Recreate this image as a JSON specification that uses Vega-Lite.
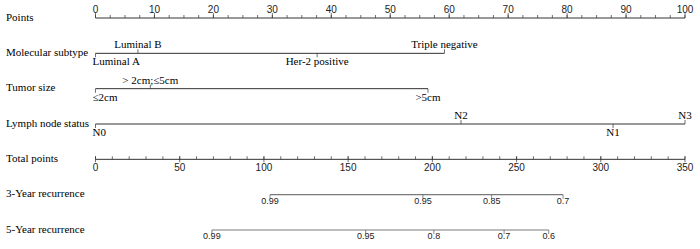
{
  "$schema": "https://vega.github.io/schema/vega-lite/v6.json",
  "width": 589.5,
  "height": 212,
  "autosize": "none",
  "padding": {"left": 95.5, "top": 18, "right": 15, "bottom": 19},
  "background": "white",
  "config": {
    "view": {"stroke": null},
    "axisY": {"domain": false, "ticks": false, "tickSize": 0, "grid": false, "labelAlign": "left", "labelBaseline": "middle", "labelPadding": 90, "labelOffset": -1, "labelFont": "Liberation Serif", "labelFontSize": 11, "labelColor": "#000", "labelLimit": 200}
  },
  "datasets": {
    "segP": [
      {"row": "Points", "v": 0, "v2": 100},
      {"row": "Molecular subtype", "v": 0, "v2": 59.2},
      {"row": "Tumor size", "v": 0, "v2": 56.4},
      {"row": "Lymph node status", "v": 0, "v2": 100}
    ],
    "pMinor": [
      {"row": "Points", "v": 0}, {"row": "Points", "v": 2.5}, {"row": "Points", "v": 5}, {"row": "Points", "v": 7.5},
      {"row": "Points", "v": 10}, {"row": "Points", "v": 12.5}, {"row": "Points", "v": 15}, {"row": "Points", "v": 17.5},
      {"row": "Points", "v": 20}, {"row": "Points", "v": 22.5}, {"row": "Points", "v": 25}, {"row": "Points", "v": 27.5},
      {"row": "Points", "v": 30}, {"row": "Points", "v": 32.5}, {"row": "Points", "v": 35}, {"row": "Points", "v": 37.5},
      {"row": "Points", "v": 40}, {"row": "Points", "v": 42.5}, {"row": "Points", "v": 45}, {"row": "Points", "v": 47.5},
      {"row": "Points", "v": 50}, {"row": "Points", "v": 52.5}, {"row": "Points", "v": 55}, {"row": "Points", "v": 57.5},
      {"row": "Points", "v": 60}, {"row": "Points", "v": 62.5}, {"row": "Points", "v": 65}, {"row": "Points", "v": 67.5},
      {"row": "Points", "v": 70}, {"row": "Points", "v": 72.5}, {"row": "Points", "v": 75}, {"row": "Points", "v": 77.5},
      {"row": "Points", "v": 80}, {"row": "Points", "v": 82.5}, {"row": "Points", "v": 85}, {"row": "Points", "v": 87.5},
      {"row": "Points", "v": 90}, {"row": "Points", "v": 92.5}, {"row": "Points", "v": 95}, {"row": "Points", "v": 97.5},
      {"row": "Points", "v": 100}
    ],
    "pMajor": [
      {"row": "Points", "v": 0, "label": "0"}, {"row": "Points", "v": 10, "label": "10"},
      {"row": "Points", "v": 20, "label": "20"}, {"row": "Points", "v": 30, "label": "30"},
      {"row": "Points", "v": 40, "label": "40"}, {"row": "Points", "v": 50, "label": "50"},
      {"row": "Points", "v": 60, "label": "60"}, {"row": "Points", "v": 70, "label": "70"},
      {"row": "Points", "v": 80, "label": "80"}, {"row": "Points", "v": 90, "label": "90"},
      {"row": "Points", "v": 100, "label": "100"}
    ],
    "vars": [
      {"row": "Molecular subtype", "v": 0, "label": "Luminal A", "side": "below", "first": true},
      {"row": "Molecular subtype", "v": 7.2, "label": "Luminal B", "side": "above", "first": false},
      {"row": "Molecular subtype", "v": 37.6, "label": "Her-2 positive", "side": "below", "first": false},
      {"row": "Molecular subtype", "v": 59.2, "label": "Triple negative", "side": "above", "first": false},
      {"row": "Tumor size", "v": 0, "label": "≤2cm", "side": "below", "first": true},
      {"row": "Tumor size", "v": 9.3, "label": "> 2cm;≤5cm", "side": "above", "first": false},
      {"row": "Tumor size", "v": 56.4, "label": ">5cm", "side": "below", "first": false},
      {"row": "Lymph node status", "v": 0, "label": "N0", "side": "below", "first": true},
      {"row": "Lymph node status", "v": 62.0, "label": "N2", "side": "above", "first": false},
      {"row": "Lymph node status", "v": 87.8, "label": "N1", "side": "below", "first": false},
      {"row": "Lymph node status", "v": 100, "label": "N3", "side": "above", "first": false}
    ],
    "segT": [
      {"row": "Total points", "t": 0, "t2": 350}
    ],
    "segR": [
      {"row": "3-Year recurrence", "t": 103.6, "t2": 277.6},
      {"row": "5-Year recurrence", "t": 69.1, "t2": 269.1}
    ],
    "tMinor": [
      {"row": "Total points", "t": 0}, {"row": "Total points", "t": 10}, {"row": "Total points", "t": 20}, {"row": "Total points", "t": 30},
      {"row": "Total points", "t": 40}, {"row": "Total points", "t": 50}, {"row": "Total points", "t": 60}, {"row": "Total points", "t": 70},
      {"row": "Total points", "t": 80}, {"row": "Total points", "t": 90}, {"row": "Total points", "t": 100}, {"row": "Total points", "t": 110},
      {"row": "Total points", "t": 120}, {"row": "Total points", "t": 130}, {"row": "Total points", "t": 140}, {"row": "Total points", "t": 150},
      {"row": "Total points", "t": 160}, {"row": "Total points", "t": 170}, {"row": "Total points", "t": 180}, {"row": "Total points", "t": 190},
      {"row": "Total points", "t": 200}, {"row": "Total points", "t": 210}, {"row": "Total points", "t": 220}, {"row": "Total points", "t": 230},
      {"row": "Total points", "t": 240}, {"row": "Total points", "t": 250}, {"row": "Total points", "t": 260}, {"row": "Total points", "t": 270},
      {"row": "Total points", "t": 280}, {"row": "Total points", "t": 290}, {"row": "Total points", "t": 300}, {"row": "Total points", "t": 310},
      {"row": "Total points", "t": 320}, {"row": "Total points", "t": 330}, {"row": "Total points", "t": 340}, {"row": "Total points", "t": 350}
    ],
    "tMajor": [
      {"row": "Total points", "t": 0, "label": "0"}, {"row": "Total points", "t": 50, "label": "50"},
      {"row": "Total points", "t": 100, "label": "100"}, {"row": "Total points", "t": 150, "label": "150"},
      {"row": "Total points", "t": 200, "label": "200"}, {"row": "Total points", "t": 250, "label": "250"},
      {"row": "Total points", "t": 300, "label": "300"}, {"row": "Total points", "t": 350, "label": "350"}
    ],
    "rec": [
      {"row": "3-Year recurrence", "t": 103.6, "label": "0.99"},
      {"row": "3-Year recurrence", "t": 194.4, "label": "0.95"},
      {"row": "3-Year recurrence", "t": 235.2, "label": "0.85"},
      {"row": "3-Year recurrence", "t": 277.6, "label": "0.7"},
      {"row": "5-Year recurrence", "t": 69.1, "label": "0.99"},
      {"row": "5-Year recurrence", "t": 160.4, "label": "0.95"},
      {"row": "5-Year recurrence", "t": 200.9, "label": "0.8"},
      {"row": "5-Year recurrence", "t": 242.6, "label": "0.7"},
      {"row": "5-Year recurrence", "t": 269.1, "label": "0.6"}
    ]
  },
  "resolve": {"scale": {"x": "independent"}},
  "layer": [
    {
      "layer": [
        {
          "data": {"name": "segP"},
          "mark": {"type": "rule", "color": "#333", "strokeWidth": 1},
          "encoding": {
            "x": {"field": "v", "type": "quantitative", "scale": {"domain": [0, 100], "nice": false, "zero": false}, "axis": null},
            "x2": {"field": "v2"},
            "y": {"field": "row", "type": "nominal", "scale": {"type": "point", "padding": 0, "domain": ["Points", "Molecular subtype", "Tumor size", "Lymph node status", "Total points", "3-Year recurrence", "5-Year recurrence"]}, "axis": {"title": null}}
          }
        },
        {
          "data": {"name": "pMinor"},
          "mark": {"type": "tick", "color": "#333", "size": 3, "thickness": 1, "yOffset": -1.5},
          "encoding": {
            "x": {"field": "v", "type": "quantitative", "scale": {"domain": [0, 100], "nice": false, "zero": false}, "axis": null},
            "y": {"field": "row", "type": "nominal", "scale": {"type": "point", "padding": 0, "domain": ["Points", "Molecular subtype", "Tumor size", "Lymph node status", "Total points", "3-Year recurrence", "5-Year recurrence"]}, "axis": {"title": null}}
          }
        },
        {
          "data": {"name": "pMajor"},
          "mark": {"type": "tick", "color": "#333", "size": 5, "thickness": 1, "yOffset": -2.5},
          "encoding": {
            "x": {"field": "v", "type": "quantitative", "scale": {"domain": [0, 100], "nice": false, "zero": false}, "axis": null},
            "y": {"field": "row", "type": "nominal", "scale": {"type": "point", "padding": 0, "domain": ["Points", "Molecular subtype", "Tumor size", "Lymph node status", "Total points", "3-Year recurrence", "5-Year recurrence"]}, "axis": {"title": null}}
          }
        },
        {
          "data": {"name": "pMajor"},
          "mark": {"type": "text", "font": "Liberation Sans", "fontSize": 10, "color": "#222", "baseline": "bottom", "dy": -3},
          "encoding": {
            "x": {"field": "v", "type": "quantitative", "scale": {"domain": [0, 100], "nice": false, "zero": false}, "axis": null},
            "y": {"field": "row", "type": "nominal", "scale": {"type": "point", "padding": 0, "domain": ["Points", "Molecular subtype", "Tumor size", "Lymph node status", "Total points", "3-Year recurrence", "5-Year recurrence"]}, "axis": {"title": null}},
            "text": {"field": "label"}
          }
        },
        {
          "data": {"name": "vars"},
          "transform": [{"filter": "datum.side === 'above'"}],
          "mark": {"type": "tick", "color": "#333", "size": 4, "thickness": 1, "yOffset": -2},
          "encoding": {
            "x": {"field": "v", "type": "quantitative", "scale": {"domain": [0, 100], "nice": false, "zero": false}, "axis": null},
            "y": {"field": "row", "type": "nominal", "scale": {"type": "point", "padding": 0, "domain": ["Points", "Molecular subtype", "Tumor size", "Lymph node status", "Total points", "3-Year recurrence", "5-Year recurrence"]}, "axis": {"title": null}}
          }
        },
        {
          "data": {"name": "vars"},
          "transform": [{"filter": "datum.side === 'below'"}],
          "mark": {"type": "tick", "color": "#333", "size": 4, "thickness": 1, "yOffset": 2},
          "encoding": {
            "x": {"field": "v", "type": "quantitative", "scale": {"domain": [0, 100], "nice": false, "zero": false}, "axis": null},
            "y": {"field": "row", "type": "nominal", "scale": {"type": "point", "padding": 0, "domain": ["Points", "Molecular subtype", "Tumor size", "Lymph node status", "Total points", "3-Year recurrence", "5-Year recurrence"]}, "axis": {"title": null}}
          }
        },
        {
          "data": {"name": "vars"},
          "transform": [{"filter": "datum.side === 'above'"}],
          "mark": {"type": "text", "font": "Liberation Serif", "fontSize": 11, "color": "#000", "baseline": "bottom", "dy": -3},
          "encoding": {
            "x": {"field": "v", "type": "quantitative", "scale": {"domain": [0, 100], "nice": false, "zero": false}, "axis": null},
            "y": {"field": "row", "type": "nominal", "scale": {"type": "point", "padding": 0, "domain": ["Points", "Molecular subtype", "Tumor size", "Lymph node status", "Total points", "3-Year recurrence", "5-Year recurrence"]}, "axis": {"title": null}},
            "text": {"field": "label"}
          }
        },
        {
          "data": {"name": "vars"},
          "transform": [{"filter": "datum.side === 'below' && !datum.first"}],
          "mark": {"type": "text", "font": "Liberation Serif", "fontSize": 11, "color": "#000", "baseline": "top", "dy": 3},
          "encoding": {
            "x": {"field": "v", "type": "quantitative", "scale": {"domain": [0, 100], "nice": false, "zero": false}, "axis": null},
            "y": {"field": "row", "type": "nominal", "scale": {"type": "point", "padding": 0, "domain": ["Points", "Molecular subtype", "Tumor size", "Lymph node status", "Total points", "3-Year recurrence", "5-Year recurrence"]}, "axis": {"title": null}},
            "text": {"field": "label"}
          }
        },
        {
          "data": {"name": "vars"},
          "transform": [{"filter": "datum.side === 'below' && datum.first"}],
          "mark": {"type": "text", "font": "Liberation Serif", "fontSize": 11, "color": "#000", "baseline": "top", "align": "left", "dx": -3, "dy": 3},
          "encoding": {
            "x": {"field": "v", "type": "quantitative", "scale": {"domain": [0, 100], "nice": false, "zero": false}, "axis": null},
            "y": {"field": "row", "type": "nominal", "scale": {"type": "point", "padding": 0, "domain": ["Points", "Molecular subtype", "Tumor size", "Lymph node status", "Total points", "3-Year recurrence", "5-Year recurrence"]}, "axis": {"title": null}},
            "text": {"field": "label"}
          }
        }
      ]
    },
    {
      "layer": [
        {
          "data": {"name": "segT"},
          "mark": {"type": "rule", "color": "#333", "strokeWidth": 1},
          "encoding": {
            "x": {"field": "t", "type": "quantitative", "scale": {"domain": [0, 350], "nice": false, "zero": false}, "axis": null},
            "x2": {"field": "t2"},
            "y": {"field": "row", "type": "nominal", "scale": {"type": "point", "padding": 0, "domain": ["Points", "Molecular subtype", "Tumor size", "Lymph node status", "Total points", "3-Year recurrence", "5-Year recurrence"]}, "axis": {"title": null}}
          }
        },
        {
          "data": {"name": "segR"},
          "mark": {"type": "rule", "color": "#7a7a7a", "strokeWidth": 1.2},
          "encoding": {
            "x": {"field": "t", "type": "quantitative", "scale": {"domain": [0, 350], "nice": false, "zero": false}, "axis": null},
            "x2": {"field": "t2"},
            "y": {"field": "row", "type": "nominal", "scale": {"type": "point", "padding": 0, "domain": ["Points", "Molecular subtype", "Tumor size", "Lymph node status", "Total points", "3-Year recurrence", "5-Year recurrence"]}, "axis": {"title": null}}
          }
        },
        {
          "data": {"name": "tMinor"},
          "mark": {"type": "tick", "color": "#333", "size": 3, "thickness": 1, "yOffset": -1.5},
          "encoding": {
            "x": {"field": "t", "type": "quantitative", "scale": {"domain": [0, 350], "nice": false, "zero": false}, "axis": null},
            "y": {"field": "row", "type": "nominal", "scale": {"type": "point", "padding": 0, "domain": ["Points", "Molecular subtype", "Tumor size", "Lymph node status", "Total points", "3-Year recurrence", "5-Year recurrence"]}, "axis": {"title": null}}
          }
        },
        {
          "data": {"name": "tMajor"},
          "mark": {"type": "tick", "color": "#333", "size": 6, "thickness": 1, "yOffset": 0},
          "encoding": {
            "x": {"field": "t", "type": "quantitative", "scale": {"domain": [0, 350], "nice": false, "zero": false}, "axis": null},
            "y": {"field": "row", "type": "nominal", "scale": {"type": "point", "padding": 0, "domain": ["Points", "Molecular subtype", "Tumor size", "Lymph node status", "Total points", "3-Year recurrence", "5-Year recurrence"]}, "axis": {"title": null}}
          }
        },
        {
          "data": {"name": "tMajor"},
          "mark": {"type": "text", "font": "Liberation Sans", "fontSize": 10, "color": "#222", "baseline": "top", "dy": 4},
          "encoding": {
            "x": {"field": "t", "type": "quantitative", "scale": {"domain": [0, 350], "nice": false, "zero": false}, "axis": null},
            "y": {"field": "row", "type": "nominal", "scale": {"type": "point", "padding": 0, "domain": ["Points", "Molecular subtype", "Tumor size", "Lymph node status", "Total points", "3-Year recurrence", "5-Year recurrence"]}, "axis": {"title": null}},
            "text": {"field": "label"}
          }
        },
        {
          "data": {"name": "rec"},
          "mark": {"type": "tick", "color": "#555", "size": 4, "thickness": 1, "yOffset": 2},
          "encoding": {
            "x": {"field": "t", "type": "quantitative", "scale": {"domain": [0, 350], "nice": false, "zero": false}, "axis": null},
            "y": {"field": "row", "type": "nominal", "scale": {"type": "point", "padding": 0, "domain": ["Points", "Molecular subtype", "Tumor size", "Lymph node status", "Total points", "3-Year recurrence", "5-Year recurrence"]}, "axis": {"title": null}}
          }
        },
        {
          "data": {"name": "rec"},
          "mark": {"type": "text", "font": "Liberation Sans", "fontSize": 9, "color": "#222", "baseline": "top", "dy": 2},
          "encoding": {
            "x": {"field": "t", "type": "quantitative", "scale": {"domain": [0, 350], "nice": false, "zero": false}, "axis": null},
            "y": {"field": "row", "type": "nominal", "scale": {"type": "point", "padding": 0, "domain": ["Points", "Molecular subtype", "Tumor size", "Lymph node status", "Total points", "3-Year recurrence", "5-Year recurrence"]}, "axis": {"title": null}},
            "text": {"field": "label"}
          }
        }
      ]
    }
  ]
}
